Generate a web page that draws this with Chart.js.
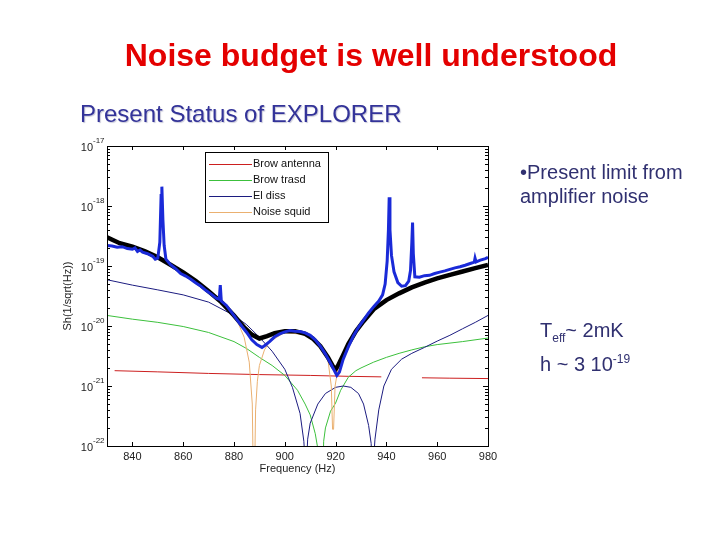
<!DOCTYPE html>
<html>
<head>
<meta charset="utf-8">
<script src="https://cdn.jsdelivr.net/npm/chart.js@4.4.0/dist/chart.umd.min.js"></script>
<style>
body { margin: 0; background: #fff; }
#wrap { position: relative; width: 720px; height: 540px; font-family: "Liberation Sans", Arial, sans-serif; overflow: hidden; }
#chart { position: absolute; left: 0; top: 0; }
.t { position: absolute; white-space: nowrap; line-height: 1; }
#title { left: 0; width: 742px; top: 39px; text-align: center; font-size: 32px; font-weight: bold; color: #e40000; }
#sub { left: 80px; top: 102px; font-size: 24px; color: #333399; text-shadow: 1px 1px 1px #c8c8d8; }
.side { font-size: 20px; color: #303070; }
sub, sup { font-size: 12px; line-height: 0; }
</style>
</head>
<body>
<div id="wrap">
  <canvas id="chart" width="720" height="540"></canvas>
  <div class="t" id="title">Noise budget is well understood</div>
  <div class="t" id="sub">Present Status of EXPLORER</div>
  <div class="t side" style="left:520px; top:162px;">&bull;Present limit from</div>
  <div class="t side" style="left:520px; top:186px;">amplifier noise</div>
  <div class="t side" style="left:540px; top:320px;">T<sub>eff</sub>~ 2mK</div>
  <div class="t side" style="left:540px; top:354px;">h ~ 3 10<sup>-19</sup></div>
</div>

<script>
// frequency axis ticks and decade ticks
const xTicks = [840, 860, 880, 900, 920, 940, 960, 980];
const yDecades = [1e-22, 1e-21, 1e-20, 1e-19, 1e-18, 1e-17];

// Brownian noise of the antenna
const redFreq = [833, 850, 870, 890, 910, 925, 938, 946, 954, 965, 980];
const redVal  = [1.8e-21, 1.72e-21, 1.62e-21, 1.55e-21, 1.5e-21, 1.45e-21, 1.42e-21, null, 1.37e-21, 1.35e-21, 1.33e-21];

// Brownian noise of the transducer
const greenFreq = [830, 840, 850, 860, 870, 880, 885, 890, 895, 900, 905, 908, 910, 912, 913, 913.5,
                   915, 915.3, 916, 918, 920, 922, 925, 928, 930, 935, 940, 945, 950, 955, 960, 970, 980];
const greenVal  = [1.5e-20, 1.3e-20, 1.15e-20, 9.8e-21, 7.8e-21, 5.5e-21, 4.2e-21, 3.0e-21, 2.2e-21, 1.5e-21, 8.5e-22, 5e-22, 3.3e-22, 1.6e-22, 9e-23, 3e-23,
                   3e-23, 1.2e-22, 2.0e-22, 3.8e-22, 5.2e-22, 8.5e-22, 1.4e-21, 1.8e-21, 2.0e-21, 2.5e-21, 3.0e-21, 3.5e-21, 4.0e-21, 4.5e-21, 4.9e-21, 5.5e-21, 6.3e-21];

// electrical dissipation
const navyFreq = [830, 840, 850, 860, 870, 880, 885, 890, 895, 900, 903, 906, 907.5, 908.3,
                  909, 910, 913, 916, 920, 923, 926, 929, 931, 933, 934, 934.5,
                  935.5, 937, 939, 942, 946, 950, 955, 960, 965, 970, 975, 980];
const navyVal  = [5.9e-20, 4.8e-20, 4.0e-20, 3.3e-20, 2.5e-20, 1.5e-20, 1.05e-20, 6.5e-21, 3.8e-21, 1.9e-21, 9.5e-22, 3.5e-22, 1.2e-22, 3e-23,
                  1.3e-22, 2.4e-22, 5e-22, 7.5e-22, 9.5e-22, 1.0e-21, 9.5e-22, 7.5e-22, 5e-22, 2.2e-22, 1.1e-22, 3e-23,
                  1.3e-22, 4e-22, 1.0e-21, 1.9e-21, 2.8e-21, 3.5e-21, 4.4e-21, 5.6e-21, 7.0e-21, 9.0e-21, 1.15e-20, 1.5e-20];

// squid noise
const orangeFreq = [875, 878, 881, 884, 886, 887.2, 887.6, 888.1, 888.5, 889.2, 890, 892, 894, 900, 910, 915, 917, 918.3, 918.8, 919.2, 919.8, 921, 923];
const orangeVal  = [2.7e-20, 2.0e-20, 1.3e-20, 6.5e-21, 2.5e-21, 5e-22, 3e-23, 3e-23, 4e-22, 1.2e-21, 2.2e-21, 4e-21, 5.5e-21, 7.8e-21, 7e-21, 4.2e-21, 2.7e-21, 1.0e-21, 1.9e-22, 1.9e-22, 1.0e-21, 2.0e-21, 3.0e-21];

// total model
const blackFreq = [830, 835, 840, 845, 850, 855, 860, 865, 870, 875, 880, 884, 887, 890, 893, 896, 900, 904, 908, 911, 914, 917, 919, 920, 921, 923, 925, 928, 931, 935, 940, 945, 950, 955, 960, 965, 970, 975, 980];
const blackVal  = [3.0e-19, 2.4e-19, 2.1e-19, 1.75e-19, 1.4e-19, 1.05e-19, 7.8e-20, 5.6e-20, 3.8e-20, 2.5e-20, 1.5e-20, 9.5e-21, 7.2e-21, 6.2e-21, 6.8e-21, 7.6e-21, 8.2e-21, 8.2e-21, 7.4e-21, 6.2e-21, 4.6e-21, 3.0e-21, 2.1e-21, 1.9e-21, 2.2e-21, 3.3e-21, 5.0e-21, 8.2e-21, 1.2e-20, 1.9e-20, 2.7e-20, 3.5e-20, 4.4e-20, 5.3e-20, 6.2e-20, 7.1e-20, 8.1e-20, 9.2e-20, 1.04e-19];

// measured spectrum
const blueFreq = [830, 832, 834, 836, 838, 840, 841, 842, 843, 844, 846, 848, 849, 850, 850.8, 851.3, 851.6, 852, 852.5, 853.2,
                  855, 857, 859, 861, 863, 865, 867, 869, 871, 873, 874.2, 874.6, 875, 877, 879, 881, 883, 885, 887, 889,
                  891, 892, 894, 896, 898, 900, 902, 904, 906, 908, 910, 912, 914, 916, 918, 919.5, 920.5, 921.5, 923, 925,
                  927, 929, 931, 933, 935, 937, 938.5, 939.5, 940.3, 940.8, 941.1, 941.4, 942, 943, 944.5, 946, 947.5, 948.8, 949.5, 950,
                  950.3, 950.6, 951.2, 953, 955, 957, 959, 961, 963, 965, 967, 969, 971, 973, 974.6, 974.9, 975.3, 977, 979, 980];
const blueVal  = [2.2e-19, 2.15e-19, 2.05e-19, 2.1e-19, 1.95e-19, 1.9e-19, 2.0e-19, 1.75e-19, 1.85e-19, 1.7e-19, 1.6e-19, 1.45e-19, 1.3e-19, 1.35e-19, 2.5e-19, 1.5e-18, 2.1e-18, 6e-19, 2.2e-19, 1.3e-19,
                  1.05e-19, 9e-20, 7.5e-20, 6.8e-20, 6.0e-20, 5.2e-20, 4.6e-20, 3.9e-20, 3.4e-20, 2.9e-20, 2.8e-20, 4.8e-20, 2.6e-20, 2.2e-20, 1.7e-20, 1.3e-20, 1.0e-20, 7.8e-21, 5.9e-21, 4.9e-21,
                  4.4e-21, 4.7e-21, 5.5e-21, 6.6e-21, 7.4e-21, 8.0e-21, 8.4e-21, 8.2e-21, 8.1e-21, 7.7e-21, 7.0e-21, 5.9e-21, 4.6e-21, 3.4e-21, 2.4e-21, 1.8e-21, 1.5e-21, 1.7e-21, 2.8e-21, 4.5e-21,
                  6.8e-21, 9.5e-21, 1.25e-20, 1.65e-20, 2.1e-20, 2.6e-20, 3.3e-20, 5e-20, 1.2e-19, 4e-19, 1.4e-18, 4e-19, 1.5e-19, 8e-20, 5.3e-20, 4.6e-20, 4.7e-20, 5.6e-20, 8.5e-20, 2.4e-19,
                  5.3e-19, 1.6e-19, 6.6e-20, 6.5e-20, 6.9e-20, 7.0e-20, 7.5e-20, 7.9e-20, 8.3e-20, 8.8e-20, 9.3e-20, 9.7e-20, 1.03e-19, 1.1e-19, 1.16e-19, 1.35e-19, 1.17e-19, 1.25e-19, 1.33e-19, 1.4e-19];

function pts(fs, vs) {
    return fs.map((f, i) => ({ x: f, y: vs[i] }));
}

function sup10(v) {
    return String(Math.round(Math.log10(v)));
}

// box with inward ticks, log axis labels, legend
const matlabFrame = {
    id: 'matlabFrame',
    afterDraw(chart) {
        const ctx = chart.ctx;
        const a = chart.chartArea;
        const xs = chart.scales.x;
        const ys = chart.scales.y;
        ctx.save();
        ctx.strokeStyle = '#000';
        ctx.lineWidth = 1;
        ctx.strokeRect(a.left + 0.5, a.top + 0.5, a.right - a.left, a.bottom - a.top);

        ctx.beginPath();
        xTicks.forEach(v => {
            const px = Math.round(xs.getPixelForValue(v)) + 0.5;
            ctx.moveTo(px, a.bottom); ctx.lineTo(px, a.bottom - 4);
            ctx.moveTo(px, a.top); ctx.lineTo(px, a.top + 4);
        });
        yDecades.forEach((d, i) => {
            const py = Math.round(ys.getPixelForValue(d)) + 0.5;
            ctx.moveTo(a.left, py); ctx.lineTo(a.left + 5, py);
            ctx.moveTo(a.right, py); ctx.lineTo(a.right - 5, py);
            if (i < yDecades.length - 1) {
                for (let m = 2; m < 10; m++) {
                    const pm = Math.round(ys.getPixelForValue(d * m)) + 0.5;
                    ctx.moveTo(a.left, pm); ctx.lineTo(a.left + 3, pm);
                    ctx.moveTo(a.right, pm); ctx.lineTo(a.right - 3, pm);
                }
            }
        });
        ctx.stroke();

        // decade labels
        ctx.fillStyle = '#222';
        ctx.textBaseline = 'middle';
        yDecades.forEach(d => {
            const py = ys.getPixelForValue(d);
            ctx.font = '11px "Liberation Sans", Arial';
            ctx.textAlign = 'right';
            ctx.fillText('10', a.left - 14, py + 2);
            ctx.font = '8px "Liberation Sans", Arial';
            ctx.textAlign = 'left';
            ctx.fillText(sup10(d), a.left - 14, py - 5);
        });

        // legend
        const lx = 205, ly = 152, lw = 123, lh = 70;
        ctx.fillStyle = '#fff';
        ctx.fillRect(lx, ly, lw, lh);
        ctx.strokeStyle = '#000';
        ctx.strokeRect(lx + 0.5, ly + 0.5, lw, lh);
        ctx.font = '11px "Liberation Sans", Arial';
        ctx.textAlign = 'left';
        ctx.textBaseline = 'middle';
        chart.data.datasets.filter(ds => ds.inLegend).forEach((ds, i) => {
            const y = ly + 11.5 + i * 16;
            ctx.strokeStyle = ds.borderColor;
            ctx.lineWidth = 1;
            ctx.beginPath();
            ctx.moveTo(lx + 4, Math.round(y) + 0.5);
            ctx.lineTo(lx + 47, Math.round(y) + 0.5);
            ctx.stroke();
            ctx.fillStyle = '#111';
            ctx.fillText(ds.label, lx + 48, y);
        });
        ctx.restore();
    }
};

const thin = { pointRadius: 0, borderWidth: 1, fill: false, spanGaps: false };

new Chart(document.getElementById('chart'), {
    type: 'line',
    data: {
        datasets: [
            { ...thin, label: 'Brow antenna', data: pts(redFreq, redVal), borderColor: '#cc1f1f', order: 6, inLegend: true },
            { ...thin, label: 'Brow trasd', data: pts(greenFreq, greenVal), borderColor: '#3cc03c', order: 5, inLegend: true },
            { ...thin, label: 'El diss', data: pts(navyFreq, navyVal), borderColor: '#1c1c80', order: 4, inLegend: true },
            { ...thin, label: 'Noise squid', data: pts(orangeFreq, orangeVal), borderColor: '#eab070', order: 3, inLegend: true },
            { ...thin, label: 'Total', data: pts(blackFreq, blackVal), borderColor: '#000', borderWidth: 4.5, order: 2 },
            { ...thin, label: 'Measured', data: pts(blueFreq, blueVal), borderColor: '#1a2ad8', borderWidth: 3, order: 1 }
        ]
    },
    options: {
        responsive: false,
        animation: false,
        layout: { padding: { left: 57, top: 146, right: 232, bottom: 60 } },
        plugins: { legend: { display: false }, tooltip: { enabled: false } },
        scales: {
            x: {
                type: 'linear',
                min: 830,
                max: 980,
                afterBuildTicks: s => { s.ticks = xTicks.map(v => ({ value: v })); },
                afterFit: s => { s.height = 34; },
                grid: { display: false, drawTicks: false },
                border: { display: false },
                ticks: { color: '#222', font: { size: 11, family: '"Liberation Sans", Arial' }, padding: 4, maxRotation: 0 },
                title: { display: true, text: 'Frequency (Hz)', color: '#222', font: { size: 11, family: '"Liberation Sans", Arial' } }
            },
            y: {
                type: 'logarithmic',
                min: 1e-22,
                max: 1e-17,
                afterBuildTicks: s => { s.ticks = yDecades.map(v => ({ value: v })); },
                afterFit: s => { s.width = 50; },
                grid: { display: false, drawTicks: false },
                border: { display: false },
                ticks: { display: false },
                title: { display: true, text: 'Sh(1/sqrt(Hz))', color: '#222', font: { size: 11, family: '"Liberation Sans", Arial' } }
            }
        }
    },
    plugins: [matlabFrame]
});
</script>
</body>
</html>
